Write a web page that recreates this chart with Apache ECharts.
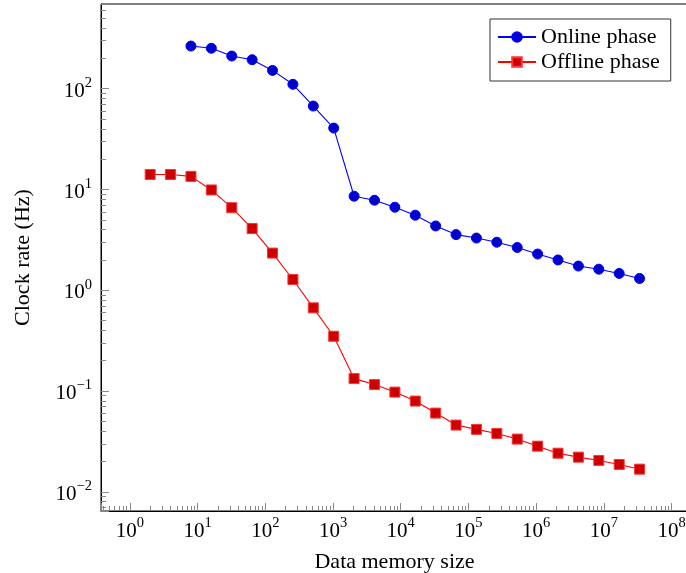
<!DOCTYPE html>
<html>
<head>
<meta charset="utf-8">
<script src="https://cdn.jsdelivr.net/npm/echarts@6/dist/echarts.min.js"></script>
<style>
html,body{margin:0;padding:0;background:#fff;}
#chart{width:686px;height:573px;}
</style>
</head>
<body>
<div id="chart"></div>
<script>
// Data memory sizes (powers of two)
const onlineSizes = [8, 16, 32, 64, 128, 256, 512, 1024, 2048, 4096, 8192, 16384, 32768, 65536,
  131072, 262144, 524288, 1048576, 2097152, 4194304, 8388608, 16777216, 33554432];
const onlineRates = [265, 252, 211, 194, 152, 110.6, 67.3, 40.7, 8.58, 7.83, 6.67, 5.56, 4.35, 3.57,
  3.30, 3.00, 2.66, 2.29, 2.00, 1.74, 1.62, 1.47, 1.31];

const offlineSizes = [2, 4, 8, 16, 32, 64, 128, 256, 512, 1024, 2048, 4096, 8192, 16384, 32768, 65536,
  131072, 262144, 524288, 1048576, 2097152, 4194304, 8388608, 16777216, 33554432];
const offlineRates = [14.1, 14.1, 13.5, 9.9, 6.6, 4.1, 2.34, 1.28, 0.67, 0.35, 0.133, 0.116, 0.0977, 0.0796, 0.0605, 0.046,
  0.0417, 0.038, 0.0334, 0.0284, 0.0242, 0.0221, 0.0205, 0.0187, 0.0168];

const seriesNames = ['Online phase', 'Offline phase'];
const xAxisName = 'Data memory size';
const yAxisName = 'Clock rate (Hz)';

const FONT = 'Liberation Serif';

function pair(xs, ys) { return xs.map((x, i) => [x, ys[i]]); }

function powLabel(v) {
  const l = Math.log10(v);
  const e = Math.round(l);
  if (Math.abs(l - e) > 1e-6) return '';
  const exp = e < 0 ? '\u2212' + (-e) : String(e);
  return '{b|10}{s|' + exp + '}';
}

const richLabel = {
  b: { fontFamily: FONT, fontSize: 21, color: '#000', lineHeight: 26, verticalAlign: 'bottom' },
  s: { fontFamily: FONT, fontSize: 14.5, color: '#000', lineHeight: 14, verticalAlign: 'top' }
};

const chart = echarts.init(document.getElementById('chart'), null, { renderer: 'canvas' });

chart.setOption({
  animation: false,
  backgroundColor: '#fff',
  grid: {
    left: 101, top: 4, right: -2, bottom: 62,
    outerBoundsMode: 'none',
    containLabel: false,
    show: true, borderColor: '#000', borderWidth: 1, backgroundColor: 'transparent'
  },
  legend: {
    orient: 'vertical',
    left: 490, top: 19,
    align: 'left',
    padding: [7, 11, 8, 7],
    itemGap: 3,
    itemWidth: 38, itemHeight: 12,
    borderColor: '#333', borderWidth: 1,
    backgroundColor: '#fff',
    textStyle: { fontFamily: FONT, fontSize: 22, color: '#000', lineHeight: 22 },
    data: seriesNames
  },
  xAxis: {
    type: 'log',
    logBase: 10,
    min: 0.376, max: 1.74e8,
    name: xAxisName,
    nameLocation: 'middle',
    nameGap: 40,
    nameTextStyle: { fontFamily: FONT, fontSize: 22, color: '#000' },
    axisLine: { show: true, lineStyle: { color: '#000', width: 1 } },
    axisTick: { show: true, inside: true, length: 8, lineStyle: { color: '#888', width: 1 } },
    minorTick: { show: true, splitNumber: 9, length: 5, lineStyle: { color: '#888', width: 1 } },
    splitLine: { show: false },
    axisLabel: { margin: 5, formatter: powLabel, rich: richLabel }
  },
  yAxis: {
    type: 'log',
    logBase: 10,
    min: 0.00646, max: 693,
    name: yAxisName,
    nameLocation: 'middle',
    nameGap: 67,
    nameTextStyle: { fontFamily: FONT, fontSize: 22, color: '#000' },
    axisLine: { show: true, lineStyle: { color: '#000', width: 1 } },
    axisTick: { show: true, inside: true, length: 8, lineStyle: { color: '#888', width: 1 } },
    minorTick: { show: true, splitNumber: 9, length: 5, lineStyle: { color: '#888', width: 1 } },
    splitLine: { show: false },
    axisLabel: { margin: 9, formatter: powLabel, rich: richLabel }
  },
  series: [
    {
      name: seriesNames[0],
      type: 'line',
      data: pair(onlineSizes, onlineRates),
      symbol: 'circle',
      symbolSize: 10,
      showAllSymbol: true,
      itemStyle: { color: '#0000cc', borderColor: '#0000ff', borderWidth: 1 },
      lineStyle: { color: '#0000ff', width: 1.1 }
    },
    {
      name: seriesNames[1],
      type: 'line',
      data: pair(offlineSizes, offlineRates),
      symbol: 'rect',
      symbolSize: 10,
      showAllSymbol: true,
      itemStyle: { color: '#cc0000', borderColor: '#ff3333', borderWidth: 1 },
      lineStyle: { color: '#ff0000', width: 1.1 }
    }
  ]
});
</script>
</body>
</html>
